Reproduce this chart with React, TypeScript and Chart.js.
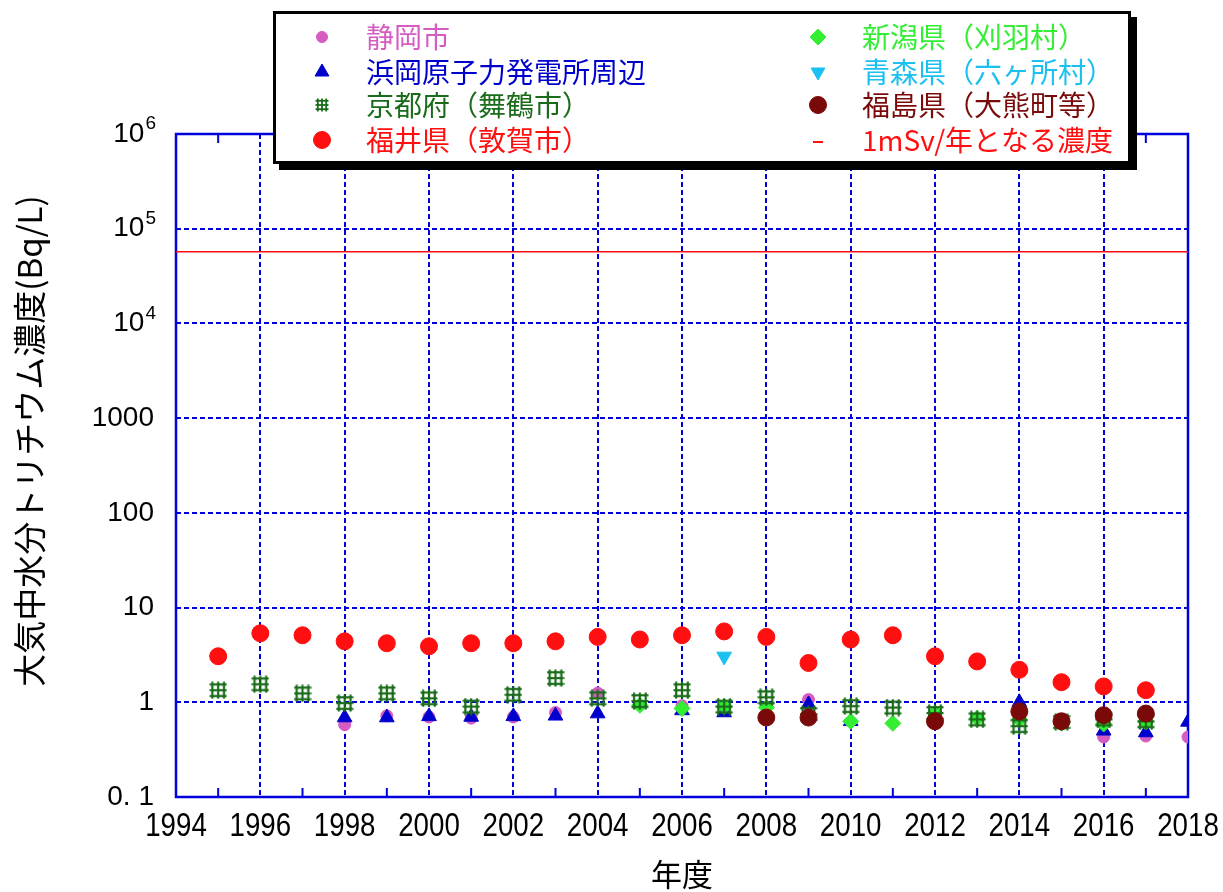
import React, { useEffect, useRef } from "react";
import { Chart, registerables } from "chart.js";
import { drawPoint } from "chart.js/helpers";

Chart.register(...registerables);

// ---- data ----
const shizuokaYears = [1998, 1999, 2000, 2001, 2002, 2003, 2004, 2006, 2009, 2016, 2017, 2018];
const shizuokaValues = [0.58, 0.72, 0.7, 0.68, 0.7, 0.78, 1.25, 0.92, 1.07, 0.43, 0.44, 0.43];

const hamaokaYears = [1998, 1999, 2000, 2001, 2002, 2003, 2004, 2006, 2007, 2009, 2010, 2014, 2016, 2017, 2018];
const hamaokaValues = [0.69, 0.69, 0.71, 0.7, 0.71, 0.72, 0.76, 0.82, 0.78, 0.95, 0.63, 1.0, 0.5, 0.48, 0.62];

const kyotoYears = [1995, 1996, 1997, 1998, 1999, 2000, 2001, 2002, 2003, 2004, 2005, 2006, 2007, 2008, 2009, 2010, 2011, 2012, 2013, 2014, 2015, 2016, 2017];
const kyotoValues = [1.34, 1.55, 1.24, 0.98, 1.24, 1.1, 0.9, 1.2, 1.8, 1.1, 1.03, 1.34, 0.9, 1.13, 0.75, 0.91, 0.88, 0.77, 0.66, 0.56, 0.62, 0.66, 0.63];

const fukuiYears = [1995, 1996, 1997, 1998, 1999, 2000, 2001, 2002, 2003, 2004, 2005, 2006, 2007, 2008, 2009, 2010, 2011, 2012, 2013, 2014, 2015, 2016, 2017];
const fukuiValues = [3.06, 5.35, 5.1, 4.4, 4.2, 3.9, 4.2, 4.2, 4.4, 4.9, 4.6, 5.1, 5.6, 4.9, 2.6, 4.6, 5.1, 3.06, 2.7, 2.2, 1.63, 1.47, 1.34];

const niigataYears = [2005, 2006, 2007, 2008, 2010, 2011, 2012, 2013, 2014, 2015, 2016, 2017];
const niigataValues = [0.93, 0.86, 0.9, 0.88, 0.63, 0.6, 0.77, 0.68, 0.66, 0.6, 0.59, 0.62];

const aomoriYears = [2007];
const aomoriValues = [3.05];

const fukushimaYears = [2008, 2009, 2012, 2014, 2015, 2016, 2017];
const fukushimaValues = [0.69, 0.69, 0.63, 0.8, 0.63, 0.73, 0.76];

const limitYears = [1994, 2018];
const limitValue = 57000;

const yTickValues = [0.1, 1, 10, 100, 1000, 10000, 100000, 1000000];
const yTickLabels = ["0. 1", "1", "10", "100", "1000", "10⁴", "10⁵", "10⁶"];

const seriesNames = [
  "静岡市",
  "浜岡原子力発電所周辺",
  "京都府（舞鶴市）",
  "福井県（敦賀市）",
  "新潟県（刈羽村）",
  "青森県（六ヶ所村）",
  "福島県（大熊町等）",
  "1mSv/年となる濃度",
];

const xTitle = "年度";
const yTitle = "大気中水分トリチウム濃度(Bq/L)";

// ---- styles ----
const C_PINK = "#d65cc2";
const C_BLUE = "#0000cc";
const C_DGREEN = "#1a6b1a";
const C_RED = "#ff0f0f";
const C_LGREEN = "#33ee33";
const C_CYAN = "#1cc0f0";
const C_BROWN = "#7a0a0a";
const C_GRID = "#0000dd";
const JP = "'Noto Sans CJK JP', 'Noto Sans', sans-serif";
const NUM = "'Liberation Sans', Arial, sans-serif";
const SUP: Record<string, string> = { "⁰": "0", "¹": "1", "²": "2", "³": "3", "⁴": "4", "⁵": "5", "⁶": "6", "⁷": "7", "⁸": "8", "⁹": "9" };

function pts(xs: number[], ys: number[]) {
  return xs.map((x, i) => ({ x, y: ys[i] }));
}

function makeGridImage(size: number, lw: number) {
  const c = document.createElement("canvas");
  c.width = size;
  c.height = size;
  const g = c.getContext("2d")!;
  g.strokeStyle = C_DGREEN;
  g.lineWidth = lw;
  const lo = lw + 1;
  const hi = size - lw - 1;
  for (let i = 0; i < 3; i++) {
    const p = lo + ((hi - lo) * i) / 2;
    g.beginPath();
    g.moveTo(p, 0.5);
    g.lineTo(p, size - 0.5);
    g.stroke();
    g.beginPath();
    g.moveTo(0.5, p);
    g.lineTo(size - 0.5, p);
    g.stroke();
  }
  return c;
}

export default function App() {
  const ref = useRef<HTMLCanvasElement | null>(null);

  useEffect(() => {
    if (!ref.current) return;
    const gridImg = makeGridImage(18, 2.2);
    const gridImgSmall = makeGridImage(14, 1.8);

    const legendItems = [
      { col: 0, row: 0, color: C_PINK, style: "circle", r: 5.5, rot: 0 },
      { col: 0, row: 1, color: C_BLUE, style: "triangle", r: 8, rot: 0 },
      { col: 0, row: 2, color: C_DGREEN, style: gridImgSmall, r: 0, rot: 0 },
      { col: 0, row: 3, color: C_RED, style: "circle", r: 8.5, rot: 0 },
      { col: 1, row: 0, color: C_LGREEN, style: "rectRot", r: 8, rot: 0 },
      { col: 1, row: 1, color: C_CYAN, style: "triangle", r: 8, rot: 180 },
      { col: 1, row: 2, color: C_BROWN, style: "circle", r: 8.5, rot: 0 },
      { col: 1, row: 3, color: C_RED, style: "dash", r: 0, rot: 0 },
    ];

    const decor = {
      id: "decor",
      beforeDatasetsDraw(chart: any) {
        const { ctx, chartArea: a, scales } = chart;
        const xs = scales.x;
        ctx.save();
        ctx.strokeStyle = C_GRID;
        ctx.lineWidth = 2;
        for (let yr = 1995; yr <= 2017; yr += 2) {
          const px = xs.getPixelForValue(yr);
          ctx.beginPath();
          ctx.moveTo(px, a.bottom);
          ctx.lineTo(px, a.bottom - 9);
          ctx.moveTo(px, a.top);
          ctx.lineTo(px, a.top + 9);
          ctx.stroke();
        }
        ctx.lineWidth = 2.5;
        ctx.strokeRect(a.left, a.top, a.right - a.left, a.bottom - a.top);
        ctx.restore();
      },
      afterDraw(chart: any) {
        const { ctx, chartArea: a, scales } = chart;
        const xs = scales.x;
        const ys = scales.y;
        ctx.save();
        ctx.fillStyle = "#000";

        // x tick labels (condensed)
        ctx.font = `33px ${NUM}`;
        ctx.textAlign = "center";
        ctx.textBaseline = "alphabetic";
        xs.ticks.forEach((t: any) => {
          const px = xs.getPixelForValue(t.value);
          ctx.save();
          ctx.translate(px, a.bottom + 39);
          ctx.scale(0.84, 1);
          ctx.fillText(String(t.value), 0, 0);
          ctx.restore();
        });

        // y tick labels with real superscripts
        ctx.textBaseline = "middle";
        yTickValues.forEach((v, i) => {
          const py = ys.getPixelForValue(v);
          const label = yTickLabels[i];
          const last = label.charAt(label.length - 1);
          const rightX = a.left - 22;
          if (SUP[last]) {
            const base = label.slice(0, -1);
            ctx.font = `19px ${NUM}`;
            ctx.textAlign = "right";
            ctx.fillText(SUP[last], rightX + 2, py - 10);
            const supW = ctx.measureText(SUP[last]).width;
            ctx.font = `28px ${NUM}`;
            ctx.fillText(base, rightX + 2 - supW - 1, py);
          } else {
            ctx.font = `28px ${NUM}`;
            ctx.textAlign = "right";
            ctx.fillText(label, rightX, py);
          }
        });

        // axis titles
        ctx.font = `31px ${JP}`;
        ctx.textAlign = "center";
        ctx.textBaseline = "middle";
        ctx.fillText(xTitle, (a.left + a.right) / 2, 874);
        ctx.save();
        ctx.translate(29, 441);
        ctx.font = `33px ${JP}`;
        ctx.rotate(-Math.PI / 2);
        ctx.fillText(yTitle, 0, 0);
        ctx.restore();

        // legend box
        const bx = 273, by = 11, bw = 858, bh = 153;
        ctx.fillStyle = "#000";
        ctx.fillRect(bx + 6, by + 6, bw, bh);
        ctx.fillStyle = "#fff";
        ctx.fillRect(bx, by, bw, bh);
        ctx.strokeStyle = "#000";
        ctx.lineWidth = 3;
        ctx.strokeRect(bx + 1.5, by + 1.5, bw - 3, bh - 3);

        const rowsY = [37, 72, 105, 140];
        const markX = [322, 818];
        const textX = [366, 862];
        ctx.font = `28px ${JP}`;
        ctx.textAlign = "left";
        ctx.textBaseline = "middle";
        legendItems.forEach((it, i) => {
          const mx = markX[it.col];
          const my = rowsY[it.row];
          if (it.style === "dash") {
            ctx.strokeStyle = it.color;
            ctx.lineWidth = 2;
            ctx.beginPath();
            ctx.moveTo(mx - 5, my + 2);
            ctx.lineTo(mx + 5, my + 2);
            ctx.stroke();
          } else {
            ctx.fillStyle = it.color;
            ctx.strokeStyle = it.color;
            ctx.lineWidth = 1;
            drawPoint(ctx, { pointStyle: it.style as any, radius: it.r, rotation: it.rot, borderWidth: 1 } as any, mx, my);
          }
          ctx.fillStyle = it.color;
          ctx.fillText(seriesNames[i], textX[it.col], my);
        });
        ctx.restore();
      },
    };

    const chart = new Chart(ref.current, {
      type: "scatter",
      data: {
        datasets: [
          {
            label: seriesNames[0],
            data: pts(shizuokaYears, shizuokaValues),
            pointStyle: "circle",
            pointRadius: 6,
            backgroundColor: C_PINK,
            borderColor: C_PINK,
            borderWidth: 1,
            order: 8,
          },
          {
            label: seriesNames[1],
            data: pts(hamaokaYears, hamaokaValues),
            pointStyle: "triangle",
            pointRadius: 8.5,
            backgroundColor: C_BLUE,
            borderColor: C_BLUE,
            borderWidth: 1,
            order: 7,
          },
          {
            label: seriesNames[2],
            data: pts(kyotoYears, kyotoValues),
            pointStyle: gridImg as any,
            pointRadius: 9,
            backgroundColor: C_DGREEN,
            borderColor: C_DGREEN,
            order: 5,
          },
          {
            label: seriesNames[3],
            data: pts(fukuiYears, fukuiValues),
            pointStyle: "circle",
            pointRadius: 8.5,
            backgroundColor: C_RED,
            borderColor: C_RED,
            borderWidth: 1,
            order: 2,
          },
          {
            label: seriesNames[4],
            data: pts(niigataYears, niigataValues),
            pointStyle: "rectRot",
            pointRadius: 8,
            backgroundColor: C_LGREEN,
            borderColor: C_LGREEN,
            borderWidth: 1,
            order: 6,
          },
          {
            label: seriesNames[5],
            data: pts(aomoriYears, aomoriValues),
            pointStyle: "triangle",
            rotation: 180,
            pointRadius: 8.5,
            backgroundColor: C_CYAN,
            borderColor: C_CYAN,
            borderWidth: 1,
            order: 4,
          },
          {
            label: seriesNames[6],
            data: pts(fukushimaYears, fukushimaValues),
            pointStyle: "circle",
            pointRadius: 8.5,
            backgroundColor: C_BROWN,
            borderColor: C_BROWN,
            borderWidth: 1,
            order: 3,
          },
          {
            type: "line" as any,
            label: seriesNames[7],
            data: limitYears.map((x) => ({ x, y: limitValue })),
            borderColor: C_RED,
            borderWidth: 1.5,
            pointRadius: 0,
            showLine: true,
            fill: false,
            order: 1,
          } as any,
        ],
      },
      options: {
        animation: false,
        responsive: true,
        maintainAspectRatio: false,
        layout: { padding: { top: 134, right: 35, left: 0, bottom: 0 } },
        plugins: {
          legend: { display: false },
          tooltip: { enabled: false },
          title: { display: false },
        },
        scales: {
          x: {
            type: "linear",
            min: 1994,
            max: 2018,
            afterFit: (s: any) => {
              s.height = 95;
            },
            ticks: {
              stepSize: 2,
              display: false,
              autoSkip: false,
            },
            grid: {
              color: (c: any) => (c.tick && (c.tick.value === 1994 || c.tick.value === 2018) ? "rgba(0,0,0,0)" : C_GRID),
              lineWidth: 2,
              drawTicks: false,
            },
            border: { display: false, dash: [5, 3] },
          },
          y: {
            type: "logarithmic",
            min: 0.1,
            max: 1000000,
            afterFit: (s: any) => {
              s.width = 176;
            },
            afterBuildTicks: (s: any) => {
              s.ticks = yTickValues.map((v) => ({ value: v }));
            },
            ticks: {
              display: false,
              autoSkip: false,
            },
            grid: {
              color: (c: any) => (c.tick && (c.tick.value === 0.1 || c.tick.value === 1000000) ? "rgba(0,0,0,0)" : C_GRID),
              lineWidth: 2,
              drawTicks: false,
            },
            border: { display: false, dash: [5, 3] },
          },
        },
      },
      plugins: [decor as any],
    });
    return () => chart.destroy();
  }, []);

  return (
    <div style={{ position: "fixed", left: 0, top: 0, width: 1223, height: 892, background: "#fff" }}>
      <canvas ref={ref} />
    </div>
  );
}
